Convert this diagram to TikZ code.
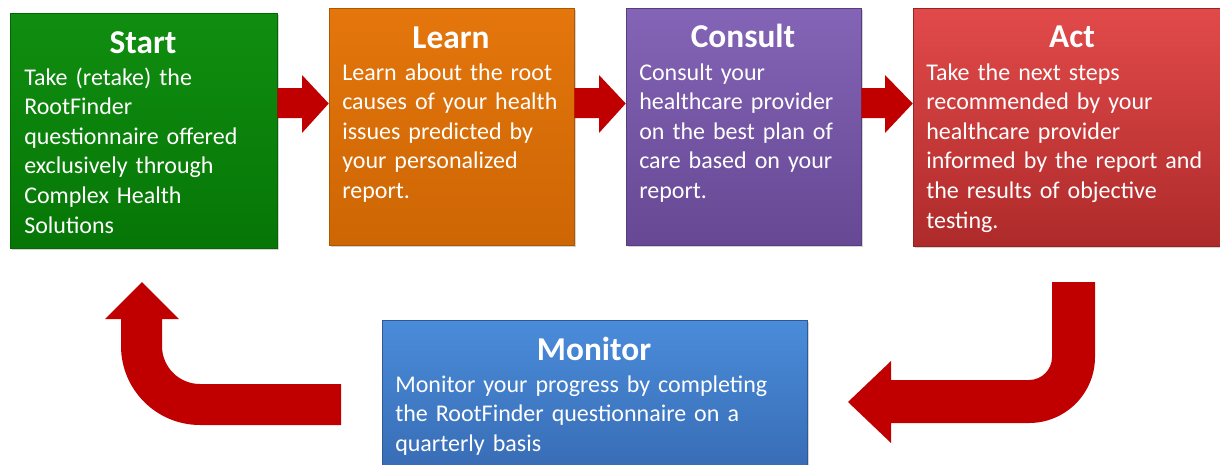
\documentclass[tikz,border=0pt]{standalone}
\usepackage{fontspec}
\setmainfont{Carlito}
\usepackage{tikz}
\usetikzlibrary{fit,shadows}

\definecolor{arrowred}{RGB}{192,0,0}
\definecolor{greentop}{RGB}{16,142,16}
\definecolor{greenbot}{RGB}{6,118,6}
\definecolor{orangetop}{RGB}{228,118,12}
\definecolor{orangebot}{RGB}{205,102,4}
\definecolor{purpletop}{RGB}{132,100,182}
\definecolor{purplebot}{RGB}{102,72,148}
\definecolor{redtop}{RGB}{226,74,74}
\definecolor{redbot}{RGB}{174,42,42}
\definecolor{bluetop}{RGB}{74,140,218}
\definecolor{bluebot}{RGB}{54,104,176}

\tikzset{
    box/.style={inner sep=0pt, draw=#1bot!85!black, line width=0.4pt,
        top color=#1top, bottom color=#1bot,
        drop shadow={shadow xshift=1.5pt, shadow yshift=-1.5pt, opacity=0.35}},
    title/.style={anchor=base, text=white, inner sep=0pt,
        font=\fontsize{25}{30}\selectfont\bfseries},
    body/.style={anchor=base west, align=left, text width=330pt, text=white, inner sep=0pt,
        font=\fontsize{18}{22.2}\selectfont},
}

\begin{document}
\begin{tikzpicture}[x=0.75pt, y=-0.75pt]
        \useasboundingbox (0, 0) rectangle (1220, 464);

        % the five steps
        \node[box=green, fit={(10, 13) (277, 248)}] (start) {};
        \node[box=orange, fit={(329, 8) (574, 245)}] (learn) {};
        \node[box=purple, fit={(626, 8) (861, 245)}] (consult) {};
        \node[box=red, fit={(913, 8) (1231, 246)}] (act) {};
        \node[box=blue, fit={(382, 320) (807, 490)}] (monitor) {};

        \node[title] (startt) at (143, 53) {Start};
        \node[body] (startb) at (24, 85) {Take (retake) the\\RootFinder\\questionnaire offered\\exclusively through\\Complex Health\\Solutions};

        \node[title] (learnt) at (451, 48) {Learn};
        \node[body] (learnb) at (342, 80) {Learn about the root\\causes of your health\\issues predicted by\\your personalized\\report.};

        \node[title] (consultt) at (743, 47) {Consult};
        \node[body] (consultb) at (639, 80) {Consult your\\healthcare provider\\on the best plan of\\care based on your\\report.};

        \node[title] (actt) at (1072, 47) {Act};
        \node[body] (actb) at (926, 80) {Take the next steps\\recommended by your\\healthcare provider\\informed by the report and\\the results of objective\\testing.};

        \node[title] (monitort) at (594, 360) {Monitor};
        \node[body] (monitorb) at (395, 392) {Monitor your progress by completing\\the RootFinder questionnaire on a\\quarterly basis};

        % straight arrows along the top row
        \fill[arrowred] (start.east |- 0, 88) -- (302, 88) -- (302, 75) -- (learn.west |- 0, 103.5)
            -- (302, 133) -- (302, 118) -- (start.east |- 0, 118) -- cycle;
        \fill[arrowred] (learn.east |- 0, 88) -- (599, 88) -- (599, 75) -- (consult.west |- 0, 103.5)
            -- (599, 133) -- (599, 118) -- (learn.east |- 0, 118) -- cycle;
        \fill[arrowred] (consult.east |- 0, 88) -- (885, 88) -- (885, 75) -- (act.west |- 0, 103.5)
            -- (885, 133) -- (885, 118) -- (consult.east |- 0, 118) -- cycle;

        % bent arrow from Act down to Monitor
        \fill[arrowred] (1052, 282) -- (1095, 282) -- (1095, 357)
            arc[start angle=0, end angle=90, radius=66] -- (891, 423) -- (891, 443)
            -- (848, 402) -- (891, 361) -- (891, 380) -- (1029, 380)
            arc[start angle=90, end angle=0, radius=23] -- cycle;

        % bent arrow from Monitor back up to Start
        \fill[arrowred] (341, 384) -- (200, 384)
            arc[start angle=90, end angle=180, radius=38] -- (162, 319) -- (179, 319)
            -- (142, 282) -- (105, 319) -- (121, 319) -- (121, 346)
            arc[start angle=180, end angle=90, radius=79] -- (341, 425) -- cycle;
    \end{tikzpicture}
\end{document}
